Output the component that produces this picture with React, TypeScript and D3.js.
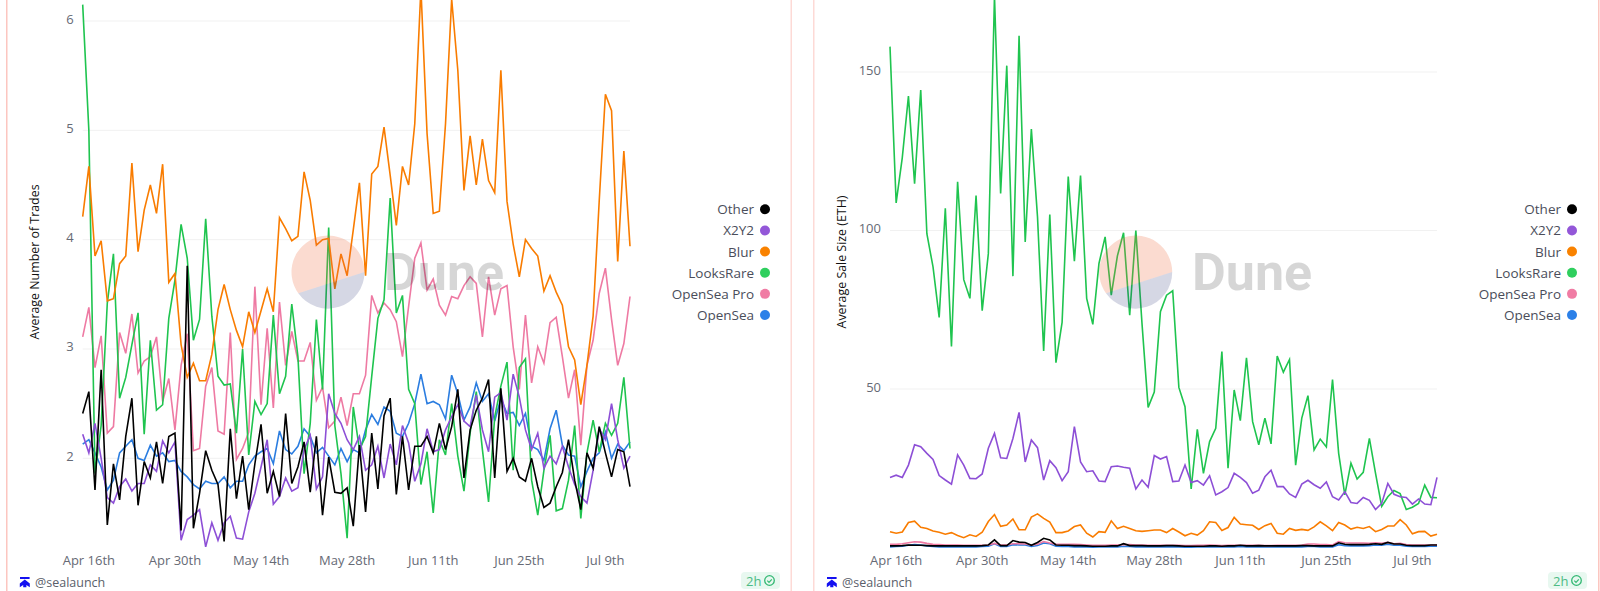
import React, { useEffect, useRef } from "react";
import * as d3 from "d3";

// ---- data ----
const startDay = new Date(2023, 3, 15);
const seriesNames = ["OpenSea", "OpenSea Pro", "LooksRare", "Blur", "X2Y2", "Other"];
const seriesColors = ["#2b7de0", "#ee7aa3", "#1fc44f", "#f97c00", "#8d4fd6", "#000000"];
const legendNames = ["Other", "X2Y2", "Blur", "LooksRare", "OpenSea Pro", "OpenSea"];
const legendColors = ["#000000", "#9357d8", "#f98200", "#2fcf5e", "#f07ca4", "#2b80e8"];
const xTickLabels = ["Apr 16th", "Apr 30th", "May 14th", "May 28th", "Jun 11th", "Jun 25th", "Jul 9th"];
const leftTicks = [2, 3, 4, 5, 6];
const rightTicks = [50, 100, 150];

const tradesOpenSea = [
  2.13, 2.17, 2.05, 1.92, 1.71, 1.8, 2.05, 2.11, 2.17, 2.0,
  1.98, 2.12, 2.02, 2.05, 1.97, 1.98, 1.88, 1.83, 1.76, 1.72,
  1.79, 1.77, 1.77, 1.83, 1.73, 1.79, 1.79, 1.94, 2.02, 2.06,
  2.09, 1.95, 2.25, 2.08, 2.04, 2.11, 2.27, 2.2, 2.05, 2.1,
  2.02, 1.94, 2.09, 1.97, 2.08, 2.05, 2.26, 2.4, 2.31, 2.47,
  2.43, 2.23, 2.2, 2.32, 2.5, 2.77, 2.5, 2.52, 2.49, 2.36,
  2.76, 2.59, 2.35, 2.47, 2.69, 2.52, 2.59, 2.34, 2.55, 2.41,
  2.42, 2.3, 2.41, 2.11, 2.08, 1.98, 2.27, 2.44, 2.12, 2.03,
  2.02, 1.74, 1.88, 2.0, 2.05, 2.24, 2.0, 2.13, 2.07, 2.15,
];
const tradesOpenSeaPro = [
  3.11, 3.38, 2.83, 3.12, 2.23, 2.29, 3.15, 2.96, 3.32, 2.78,
  2.89, 2.93, 3.11, 2.52, 2.73, 2.26, 2.85, 3.14, 2.07, 2.09,
  2.66, 2.83, 2.25, 2.22, 3.15, 1.99, 2.09, 2.24, 3.57, 2.49,
  3.19, 2.46, 3.43, 2.85, 3.16, 2.89, 2.89, 3.06, 2.53, 2.65,
  2.28, 2.34, 2.56, 2.3, 2.59, 2.59, 2.76, 3.49, 3.33, 3.42,
  3.36, 3.25, 2.93, 3.39, 3.83, 3.97, 3.54, 3.64, 3.4, 3.31,
  3.48, 3.46, 3.58, 3.66, 3.6, 3.11, 3.66, 3.31, 3.55, 3.58,
  3.02, 2.63, 3.31, 2.69, 3.02, 2.87, 3.24, 3.29, 2.93, 2.55,
  2.81, 2.12, 2.85, 3.08, 3.51, 3.74, 3.27, 2.85, 3.05, 3.48,
];
const tradesLooksRare = [
  6.15, 5.0, 1.86, 2.3, 3.42, 3.87, 2.55, 2.74, 3.04, 3.33,
  2.22, 3.08, 2.44, 2.49, 3.28, 3.63, 4.14, 3.83, 3.08, 3.27,
  4.19, 3.3, 2.75, 2.67, 2.68, 2.23, 3.0, 2.03, 2.52, 2.4,
  2.5, 3.31, 2.59, 2.75, 3.41, 2.93, 1.86, 2.32, 3.27, 2.63,
  4.11, 2.3, 1.86, 1.27, 2.47, 2.08, 2.2, 2.75, 3.28, 3.45,
  4.38, 3.33, 3.49, 2.63, 2.5, 1.76, 2.06, 1.5, 2.17, 2.03,
  2.5, 2.02, 1.7, 2.23, 2.61, 2.08, 1.6, 2.38, 2.66, 2.88,
  1.89, 2.83, 2.91, 1.8, 1.48, 1.89, 2.21, 1.52, 1.54, 1.8,
  2.3, 1.45, 2.05, 2.35, 2.06, 2.32, 2.21, 2.32, 2.74, 2.09,
];
const tradesBlur = [
  4.21, 4.67, 3.85, 3.99, 3.44, 3.46, 3.78, 3.85, 4.7, 3.89,
  4.27, 4.5, 4.24, 4.69, 3.61, 3.69, 3.04, 2.74, 2.87, 2.71,
  2.71, 2.95, 3.36, 3.59, 3.36, 3.17, 3.02, 3.34, 3.15, 3.35,
  3.55, 3.34, 4.2, 4.1, 3.99, 4.03, 4.62, 4.36, 3.95, 4.0,
  4.01, 3.55, 3.87, 3.67, 4.09, 4.52, 3.67, 4.6, 4.67, 5.03,
  4.59, 4.13, 4.67, 4.5, 5.06, 6.3, 4.97, 4.24, 4.26, 5.06,
  6.2, 5.55, 4.45, 4.95, 4.5, 4.92, 4.54, 4.43, 5.55, 4.35,
  3.96, 3.66, 4.0, 3.92, 3.85, 3.53, 3.67, 3.52, 3.4, 3.02,
  2.9, 2.49, 2.85, 3.3, 4.36, 5.33, 5.18, 3.8, 4.81, 3.94,
];
const tradesX2Y2 = [
  2.22, 2.05, 2.32, 2.0, 1.64, 1.59, 1.74, 1.81, 1.7, 1.77,
  1.77, 1.94, 1.88, 2.16, 2.05, 2.15, 1.25, 1.44, 1.48, 1.53,
  1.19, 1.41, 1.25, 1.41, 1.47, 1.27, 1.26, 1.51, 1.68, 1.92,
  2.17, 1.58, 1.65, 1.82, 1.7, 1.73, 2.08, 2.21, 1.72, 1.83,
  2.59, 2.41, 2.32, 2.17, 2.08, 2.2, 1.89, 1.94, 2.11, 1.82,
  2.13, 1.94, 2.3, 2.14, 1.79, 1.95, 2.27, 2.06, 2.08, 2.26,
  2.38, 2.49, 2.34, 2.29, 2.58, 2.26, 2.06, 2.56, 2.6, 2.35,
  2.77, 2.56, 2.26, 2.08, 2.23, 1.91, 2.02, 1.95, 2.11, 1.92,
  1.76, 1.65, 1.59, 1.89, 2.27, 2.17, 2.5, 2.17, 1.91, 2.02,
];
const tradesOther = [
  2.41, 2.61, 1.71, 2.81, 1.39, 1.95, 1.62, 2.2, 2.55, 1.57,
  1.97, 1.82, 2.15, 1.77, 2.2, 2.23, 1.34, 3.76, 1.36, 1.68,
  2.07, 1.89, 1.76, 1.24, 2.27, 1.63, 2.02, 1.53, 1.95, 2.31,
  1.68, 1.88, 1.65, 2.41, 1.77, 1.92, 2.15, 1.69, 2.2, 1.48,
  2.01, 1.69, 1.68, 1.73, 1.38, 2.12, 1.51, 2.23, 1.72, 2.39,
  2.55, 1.67, 2.2, 1.71, 2.11, 2.11, 2.2, 2.05, 2.32, 2.08,
  2.29, 2.63, 1.82, 2.26, 2.44, 2.55, 2.72, 1.82, 2.64, 1.88,
  2.0, 1.83, 1.79, 2.0, 1.74, 1.55, 1.59, 1.74, 1.87, 2.17,
  1.8, 1.53, 2.05, 1.91, 2.29, 2.05, 1.83, 2.08, 2.06, 1.74,
];

const sizeOpenSea = [
  0.2, 0.3, 0.4, 0.7, 0.9, 0.8, 0.5, 0.3, 0.2, 0.2,
  0.2, 0.2, 0.2, 0.2, 0.2, 0.3, 0.4, 1.2, 0.3, 0.3,
  0.9, 0.8, 0.8, 0.3, 0.6, 1.4, 1.2, 0.4, 0.3, 0.3,
  0.2, 0.2, 0.2, 0.1, 0.2, 0.2, 0.2, 0.2, 0.4, 0.3,
  0.2, 0.2, 0.2, 0.2, 0.2, 0.2, 0.2, 0.2, 0.1, 0.1,
  0.2, 0.2, 0.2, 0.2, 0.2, 0.2, 0.2, 0.3, 0.2, 0.2,
  0.2, 0.2, 0.2, 0.2, 0.2, 0.2, 0.2, 0.2, 0.3, 0.3,
  0.2, 0.2, 0.2, 0.9, 0.6, 0.5, 0.5, 0.5, 0.6, 0.8,
  0.7, 1.0, 0.7, 0.7, 0.4, 0.3, 0.3, 0.3, 0.4, 0.4,
];
const sizeOpenSeaPro = [
  1.0, 1.0, 1.2, 1.5, 1.8, 1.7, 1.3, 1.0, 0.9, 0.8,
  0.8, 0.8, 0.7, 0.7, 0.7, 0.7, 0.8, 1.3, 0.8, 0.8,
  1.2, 1.2, 1.1, 0.8, 1.0, 1.9, 1.4, 1.0, 1.0, 1.0,
  1.0, 0.9, 0.8, 0.7, 0.7, 0.7, 0.8, 0.8, 0.9, 0.9,
  0.8, 0.8, 0.7, 0.7, 0.7, 0.7, 0.7, 0.7, 0.6, 0.6,
  0.7, 0.7, 0.8, 0.7, 0.6, 0.7, 0.7, 0.7, 0.7, 0.7,
  0.7, 0.6, 0.6, 0.7, 0.7, 0.7, 0.7, 0.8, 1.1, 1.1,
  0.9, 0.9, 0.8, 1.9, 1.5, 1.4, 1.4, 1.4, 1.3, 1.5,
  1.3, 1.6, 1.2, 1.3, 0.9, 0.8, 0.8, 0.8, 0.8, 0.8,
];
const sizeLooksRare = [
  158, 108.7, 123, 142.4, 114.8, 144.3, 99, 88.5, 72.6, 107,
  63.4, 115.4, 84.5, 78.6, 111, 74.7, 92.7, 174, 111.7, 152,
  85.6, 161.4, 96.4, 132, 104.3, 62, 105, 58.3, 71, 117,
  90.3, 117.3, 78.6, 70.4, 89.6, 98, 79.6, 92, 99.3, 73.3,
  100, 70.7, 44.2, 49, 74.4, 79.6, 81, 50.5, 44.4, 18.5,
  37.3, 23.4, 33.4, 37.6, 61.8, 25, 49.7, 40, 59.8, 39.7,
  32.4, 40.8, 32.7, 60.4, 55.3, 59.3, 26, 40.8, 47.9, 30.8,
  34.2, 31.7, 53, 29.7, 16.6, 26.6, 21.6, 23.7, 34.4, 23.4,
  13, 16, 18, 17, 12, 12.7, 13.9, 19.7, 15.8, 15.7,
];
const sizeBlur = [
  5, 4.5, 4.9, 7.9, 8.3, 6.4, 6, 5.2, 4.8, 4.2,
  4.7, 3.8, 3.1, 4, 3.5, 4.8, 8.2, 10.4, 6.7, 7.1,
  9, 5.6, 5.6, 9.6, 10.6, 9.2, 8, 4.7, 4.7, 5.2,
  6.6, 7.1, 4.5, 3.3, 5, 4.8, 8.4, 6, 6.7, 6,
  5.3, 5.1, 5.3, 5.5, 5.5, 4.7, 6, 4.9, 3.7, 4.5,
  3.9, 5.3, 8.1, 7.9, 5.4, 6.3, 9.5, 7.4, 7.2, 7,
  5.7, 6.9, 7.6, 4.5, 4.2, 6, 5.4, 5.7, 5.4, 6.5,
  8.1, 6.8, 5.3, 7.9, 7.1, 5.8, 6.4, 6, 6.6, 5,
  5.7, 6.8, 6.8, 8.8, 7.1, 4.3, 5, 5.1, 3.6, 4.2,
];
const sizeX2Y2 = [
  22.1, 22.8, 22.1, 26, 32.4, 31.8, 29.7, 27.8, 22.7, 21.3,
  20, 29.2, 26, 21.8, 21.7, 23.2, 31.3, 36, 28.3, 28.1,
  34.4, 42.6, 27, 33.9, 31.5, 21.3, 27.4, 25.2, 21.1, 23.9,
  38.1, 27, 23.9, 24.2, 21, 20.8, 25.5, 25.7, 25.3, 25,
  18.5, 21.3, 19, 29, 27.9, 28.7, 20.8, 21, 26, 20.5,
  21.1, 19.7, 22.6, 16.6, 17.6, 18.9, 23.4, 22.1, 20.5, 17.1,
  18.1, 22.3, 24.4, 19.2, 19.2, 16.9, 15.8, 20, 21.2, 19.8,
  18.7, 20.7, 16, 15, 17.6, 14.2, 13.9, 15.8, 14.9, 12,
  13.9, 20.2, 16.8, 16, 15.8, 13.7, 15.3, 13.7, 13.5, 22.1,
];
const sizeOther = [
  0.5, 0.5, 0.6, 0.8, 0.7, 0.7, 0.6, 0.5, 0.5, 0.5,
  0.5, 0.5, 0.5, 0.5, 0.5, 0.6, 0.8, 2.4, 0.6, 0.6,
  2.2, 1.7, 1.6, 0.7, 1.6, 2.9, 2.4, 0.8, 0.7, 0.7,
  0.6, 0.6, 0.5, 0.4, 0.4, 0.4, 0.5, 0.5, 1.2, 0.6,
  0.6, 0.6, 0.5, 0.5, 0.5, 0.6, 0.6, 0.5, 0.4, 0.4,
  0.4, 0.4, 0.5, 0.5, 0.4, 0.5, 0.5, 0.7, 0.5, 0.5,
  0.6, 0.5, 0.5, 0.5, 0.5, 0.5, 0.5, 0.6, 0.6, 0.5,
  0.5, 0.5, 0.5, 1.5, 1.0, 0.9, 0.9, 0.9, 1.0, 1.2,
  1.0, 1.6, 1.1, 1.1, 0.7, 0.6, 0.6, 0.6, 0.8, 0.8,
];

const leftSeries = [tradesOpenSea, tradesOpenSeaPro, tradesLooksRare, tradesBlur, tradesX2Y2, tradesOther];
const rightSeries = [sizeOpenSea, sizeOpenSeaPro, sizeLooksRare, sizeBlur, sizeX2Y2, sizeOther];

const FONT = "'Open Sans', sans-serif";
const dates = d3.timeDay.range(startDay, d3.timeDay.offset(startDay, 90));
const tickDates = d3.timeDay.range(d3.timeDay.offset(startDay, 1), d3.timeDay.offset(startDay, 90), 14);

interface PanelProps {
  x0: number; x1: number;
  yScale: d3.ScaleLinear<number, number>;
  ticks: number[]; series: number[][]; title: string;
  titleX: number; legendX: number; footX: number; badgeX: number;
  markX: number; markDune: number;
}

function Panel(p: PanelProps) {
  const ref = useRef<SVGGElement>(null);
  const xScale = d3.scaleTime().domain([dates[0], dates[dates.length - 1]]).range([p.x0, p.x1]);
  useEffect(() => {
    const g = d3.select(ref.current);
    g.selectAll("*").remove();
    // grid
    g.selectAll("line.grid").data(p.ticks).join("line").attr("class", "grid")
      .attr("x1", p.x0).attr("x2", p.x1)
      .attr("y1", (d) => p.yScale(d)).attr("y2", (d) => p.yScale(d))
      .attr("stroke", "#f1f1f1").attr("stroke-width", 1);
    // y ticks
    g.selectAll("text.yt").data(p.ticks).join("text").attr("class", "yt")
      .attr("x", p.x0 - 9).attr("y", (d) => p.yScale(d) + 2.5)
      .attr("text-anchor", "end").attr("font-size", 13).attr("font-family", FONT)
      .attr("fill", "#666a75").text((d) => String(d));
    // x ticks
    g.selectAll("text.xt").data(tickDates).join("text").attr("class", "xt")
      .attr("x", (d) => xScale(d)).attr("y", 565)
      .attr("text-anchor", "middle").attr("font-size", 13).attr("font-family", FONT)
      .attr("fill", "#666a75").text((_, i) => xTickLabels[i]);
    // lines
    const line = d3.line<number>().x((_, i) => xScale(dates[i])).y((d) => p.yScale(d));
    g.selectAll("path.s").data(p.series).join("path").attr("class", "s")
      .attr("d", (d) => line(d)).attr("fill", "none")
      .attr("stroke", (_, i) => seriesColors[i]).attr("stroke-width", 1.6)
      .attr("stroke-linejoin", "miter");
    // legend
    const rowY = d3.scaleLinear().domain([0, 5]).range([209.3, 315]);
    const lg = g.selectAll("g.lg").data(legendNames).join("g").attr("class", "lg");
    lg.append("text").attr("x", p.legendX).attr("y", (_, i) => rowY(i) + 5)
      .attr("text-anchor", "end").attr("font-size", 13.5).attr("font-family", FONT)
      .attr("fill", "#4a4d5a").text((d) => d);
    lg.append("circle").attr("cx", p.legendX + 11).attr("cy", (_, i) => rowY(i)).attr("r", 5)
      .attr("fill", (_, i) => legendColors[i]);
  }, []);
  const cx = p.markX, cy = 272, r = 36.5;
  // watermark disc: the chord runs from the lower left of the rim to its right end
  const lx = cx - 29.7, ly = cy + 21.3, rx = cx + 36.5, ry = cy;
  return (
    <g>
      <g ref={ref} />
      <text x={p.titleX} y={262} transform={`rotate(-90 ${p.titleX} 262)`} textAnchor="middle"
        fontFamily={FONT} fontSize={12.4} fill="#111">{p.title}</text>
      <path d={`M${lx} ${ly} A${r} ${r} 0 1 1 ${rx} ${ry}Z`} fill="#ef6a3c" fillOpacity={0.24} />
      <path d={`M${rx} ${ry} A${r} ${r} 0 0 1 ${lx} ${ly}Z`} fill="#2c3578" fillOpacity={0.2} />
      <text x={p.markDune} y={290} fontFamily="Roboto, sans-serif" fontWeight={700} fontSize={52}
        fill="#000" fillOpacity={0.16}>Dune</text>
      <path transform={`translate(${p.footX} 577)`}
        d="M0 0H9.6V2H0Z M4.8 2.4L9.8 6.6V10.2L6.4 8V10.2H3.2V8L-0.2 10.2V6.6Z" fill="#1410f0" />
      <text x={p.footX + 15} y={586.5} fontFamily={FONT} fontSize={12.5} fill="#5a5e6a">@sealaunch</text>
      <rect x={p.badgeX} y={572} width={39} height={17} rx={4} fill="#e8f8f0" />
      <text x={p.badgeX + 5} y={585.5} fontFamily={FONT} fontSize={13} fill="#4dbb85">2h</text>
      <circle cx={p.badgeX + 28.5} cy={580.5} r={4.8} fill="none" stroke="#33b873" strokeWidth={1.3} />
      <path d={`M${p.badgeX + 26.3} 580.6l1.7 1.7 2.8-3`} fill="none" stroke="#33b873" strokeWidth={1.2} />
    </g>
  );
}

export default function App() {
  const yLeft = d3.scaleLinear().domain([2, 6]).range([458.3, 21]);
  const yRight = d3.scaleLinear().domain([50, 150]).range([389, 72]);
  return (
    <svg width={1600} height={591} viewBox="0 0 1600 591"
      style={{ position: "fixed", left: 0, top: 0, background: "#fff", display: "block" }}>
      <rect x={6} y={0} width={1.5} height={591} fill="#fcc6c0" />
      <rect x={790.5} y={0} width={1.5} height={591} fill="#fddad6" />
      <rect x={813} y={0} width={1.5} height={591} fill="#fddad6" />
      <rect x={1598} y={0} width={1.5} height={591} fill="#fcc6c0" />
      <Panel x0={82.7} x1={630} yScale={yLeft} ticks={leftTicks} series={leftSeries}
        title="Average Number of Trades" titleX={39} legendX={754} footX={20} badgeX={741}
        markX={328} markDune={384} />
      <Panel x0={890} x1={1437} yScale={yRight} ticks={rightTicks} series={rightSeries}
        title="Average Sale Size (ETH)" titleX={846} legendX={1561} footX={827} badgeX={1548}
        markX={1135.7} markDune={1192} />
    </svg>
  );
}
